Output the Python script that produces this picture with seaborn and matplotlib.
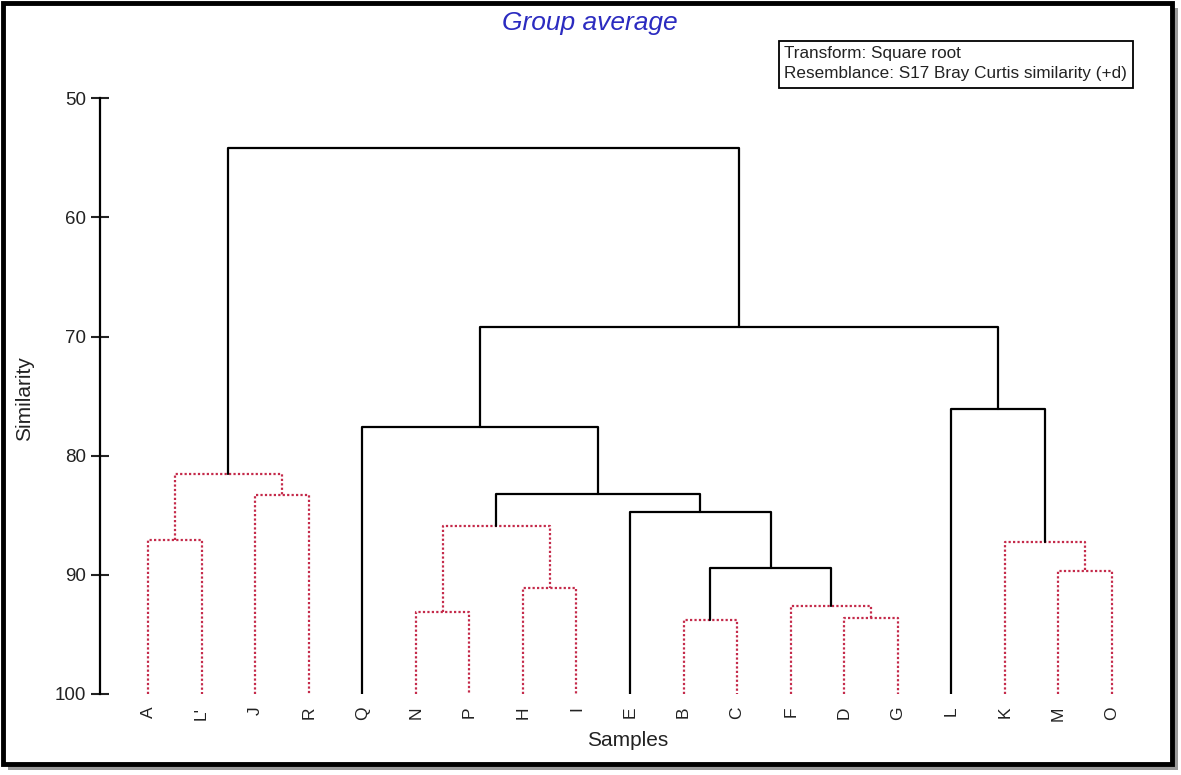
import pandas as pd
import matplotlib
matplotlib.use("Agg")
import matplotlib.pyplot as plt
from matplotlib.patches import Rectangle
import seaborn as sns

# samples in dendrogram order
leaves = ["A", "L'", "J", "R", "Q", "N", "P", "H", "I", "E",
          "B", "C", "F", "D", "G", "L", "K", "M", "O"]

# merges (group average), children are leaf names or earlier merges "m<i>"
merge_left = ["A", "J", "m0", "N", "H", "m3", "B", "D", "F", "m6",
              "E", "m5", "Q", "M", "K", "L", "m12", "m2"]
merge_right = ["L'", "R", "m1", "P", "I", "m4", "C", "G", "m7", "m8",
               "m9", "m10", "m11", "O", "m13", "m14", "m15", "m16"]
merge_sim = [87.1, 83.3, 81.5, 93.1, 91.1, 85.9, 93.8, 93.6, 92.6, 89.4,
             84.7, 83.2, 77.6, 89.7, 87.2, 76.1, 69.2, 54.2]
# SIMPROF: red dotted = no significant structure
merge_sig = ["red", "red", "red", "red", "red", "red", "red", "red", "red", "black",
             "black", "black", "black", "red", "red", "black", "black", "black"]

# build the U-shaped links
pos = {name: i for i, name in enumerate(leaves)}
height = {name: 100.0 for name in leaves}
rows = []
for k in range(len(merge_sim)):
    l, r, h = merge_left[k], merge_right[k], merge_sim[k]
    pts = [(pos[l], height[l]), (pos[l], h), (pos[r], h), (pos[r], height[r])]
    for j, (x, y) in enumerate(pts):
        rows.append({"x": x, "y": y, "link": k, "order": j, "kind": merge_sig[k]})
    pos["m%d" % k] = (pos[l] + pos[r]) / 2
    height["m%d" % k] = h
links = pd.DataFrame(rows)

sns.set_style("white")
plt.rcParams["font.family"] = ["Liberation Sans", "DejaVu Sans"]

W, H = 1181, 775
fig = plt.figure(figsize=(W / 100, H / 100), dpi=100)
ax = fig.add_axes([99.5 / W, 81 / H, (1160 - 99.5) / W, (694 - 98.3) / H])

sns.lineplot(data=links, x="x", y="y", units="link", estimator=None, sort=False,
             hue="kind", style="kind",
             palette={"black": "black", "red": "#c42a4a"},
             dashes={"black": "", "red": (1, 1)},
             linewidth=1.6, legend=False, ax=ax)

ax.set_ylim(100, 50)
ax.set_xlim(-(148 - 99.5) / 53.55, 18 + (1160 - 1112) / 53.55)
ax.set_yticks([50, 60, 70, 80, 90, 100])
ax.set_xticks(range(len(leaves)))
ax.set_xticklabels(leaves, rotation=90)
ax.tick_params(axis="y", direction="inout", length=13, width=1.5, labelsize=13.5, pad=3,
               left=True, colors="#222222")
ax.tick_params(axis="x", length=0, labelsize=12.5, pad=9, colors="#222222")
for s in ["top", "right", "bottom"]:
    ax.spines[s].set_visible(False)
ax.spines["left"].set_linewidth(1.6)
ax.spines["left"].set_color("black")
ax.set_xlabel("")
ax.set_ylabel("")

fig.text(628 / W, 1 - 741 / H, "Samples", fontsize=15, ha="center", va="center", color="#222222")
fig.text(25 / W, 1 - 399 / H, "Similarity", fontsize=15, rotation=90, ha="center", va="center",
         color="#222222")
fig.text(590 / W, 1 - 23 / H, "Group average", fontsize=19, style="italic", color="#2b2bc0",
         ha="center", va="center")

# info box
fig.patches.append(Rectangle((779 / W, 1 - 88 / H), 354 / W, 47 / H, transform=fig.transFigure,
                             fc="white", ec="black", lw=1.3))
fig.text(784 / W, 1 - 63.5 / H, "Transform: Square root\nResemblance: S17 Bray Curtis similarity (+d)",
         fontsize=12.3, ha="left", va="center", linespacing=1.35, color="#222222")

# outer frame with drop shadow
fig.patches.append(Rectangle((1172 / W, 1 - 770 / H), 6 / W, 762 / H, transform=fig.transFigure,
                             fc="#9a9a9a", ec="none"))
fig.patches.append(Rectangle((8 / W, 1 - 770 / H), 1170 / W, 6 / H, transform=fig.transFigure,
                             fc="#9a9a9a", ec="none"))
fig.patches.append(Rectangle((3 / W, 1 - 764 / H), 1169 / W, 761 / H, transform=fig.transFigure,
                             fc="none", ec="black", lw=3.5))

fig.savefig("out.png", dpi=100)
